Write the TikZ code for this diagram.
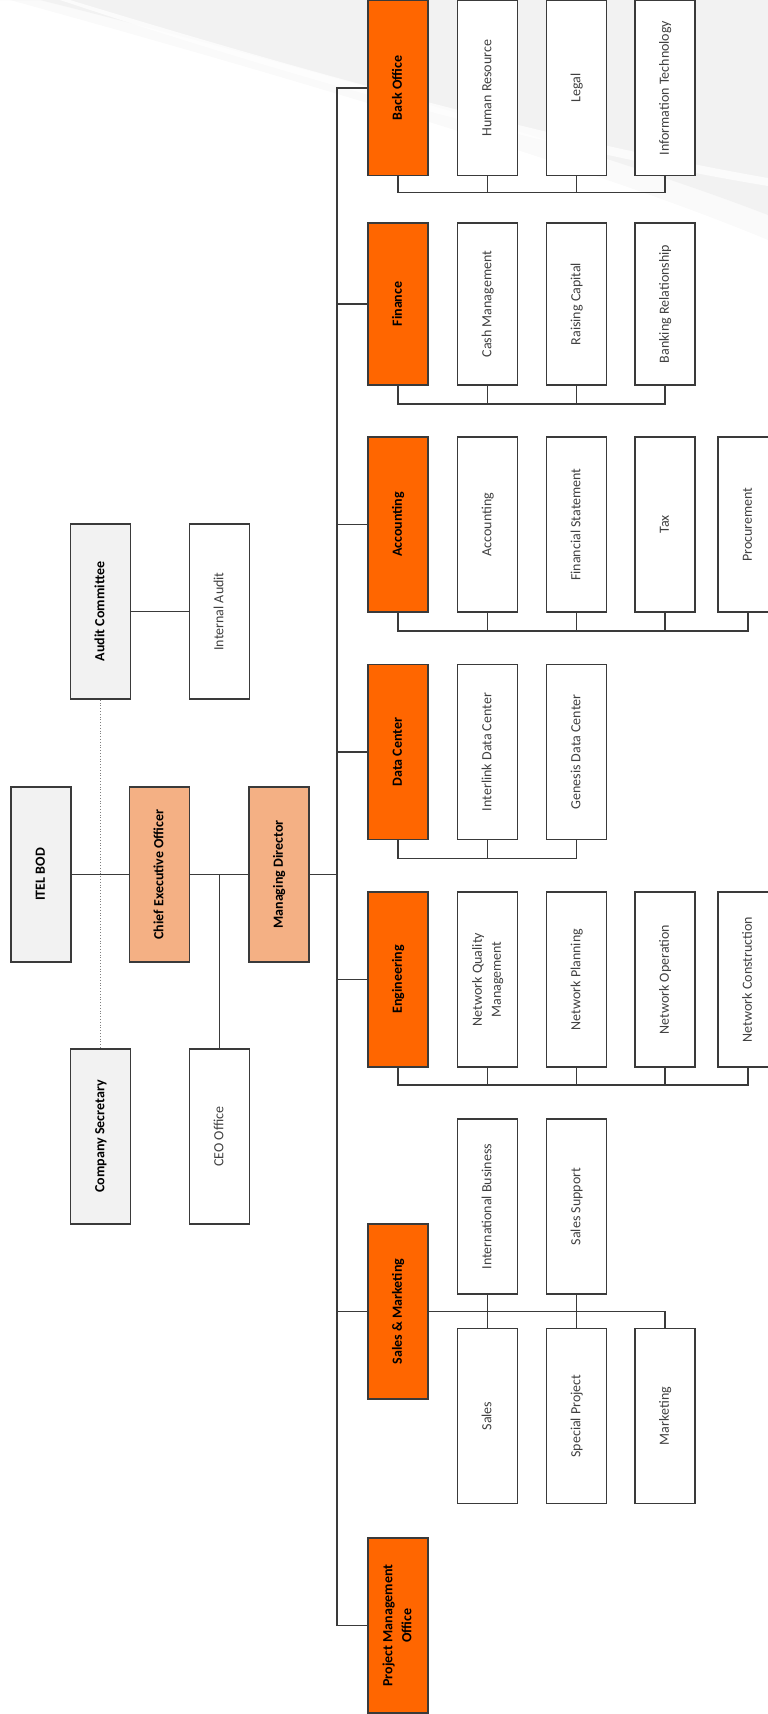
\documentclass[tikz,border=0pt]{standalone}
\usepackage{fontspec}
\setmainfont{Carlito}
\usepackage{graphicx}
\definecolor{deptorange}{HTML}{FF6600}
\definecolor{execpeach}{HTML}{F4B084}
\definecolor{boardgray}{HTML}{F2F2F2}
\definecolor{linegray}{HTML}{3A3A3A}
\definecolor{textgray}{HTML}{404040}
\newcommand{\vtext}[1]{\rotatebox{90}{\begin{tabular}{@{}c@{}}#1\end{tabular}}}
\begin{document}
\begin{tikzpicture}[x=1pt, y=-1pt,
    unit/.style={draw=linegray, line width=1.6pt, minimum width=60pt, minimum height=175pt,
        inner sep=0pt, font=\fontsize{14}{19}\selectfont},
    dept/.style={unit, fill=deptorange, font=\fontsize{14}{19}\selectfont\bfseries},
    exec/.style={unit, fill=execpeach, font=\fontsize{14}{19}\selectfont\bfseries},
    board/.style={unit, fill=boardgray, font=\fontsize{14}{19}\selectfont\bfseries},
    sub/.style={unit, fill=white, text=textgray},
    link/.style={draw=linegray, line width=1.4pt},
    dotlink/.style={draw=gray, line width=0.8pt, dotted}]
        \useasboundingbox (0,0) rectangle (768,1714);
        \clip (0,0) rectangle (768,1714);

        \fill[black!2] (0,0) -- (768,0) -- (768,240) .. controls (600,170) and (300,80) .. (10,0) -- cycle;
        \fill[black!5] (0,0) -- (768,0) -- (768,215) .. controls (600,150) and (300,65) .. (40,0) -- cycle;
        \fill[white, opacity=0.7] (70,0) .. controls (300,70) and (550,140) .. (768,178) -- (768,186) .. controls (550,150) and (300,80) .. (60,0) -- cycle;

        \node[board] (bod) at (41,874.5) {\vtext{ITEL BOD}};
        \node[board] (ac) at (100.5,611.5) {\vtext{Audit Committee}};
        \node[board] (cs) at (100.5,1136.5) {\vtext{Company Secretary}};
        \node[exec] (ceo) at (159.5,874.5) {\vtext{Chief Executive Officer}};
        \node[sub] (ia) at (219.5,611.5) {\vtext{Internal Audit}};
        \node[sub] (ceoo) at (219.5,1136.5) {\vtext{CEO Office}};
        \node[exec] (md) at (279,874.5) {\vtext{Managing Director}};

        \coordinate (bus) at (337,0);

        \node[dept] (bo) at (398,88) {\vtext{Back Office}};
        \node[sub] (hr) at (487.5,88) {\vtext{Human Resource}};
        \node[sub] (lg) at (576.5,88) {\vtext{Legal}};
        \node[sub] (it) at (665,88) {\vtext{Information Technology}};

        \node[dept, minimum height=162pt] (fi) at (398,304) {\vtext{Finance}};
        \node[sub, minimum height=162pt] (cm) at (487.5,304) {\vtext{Cash Management}};
        \node[sub, minimum height=162pt] (rc) at (576.5,304) {\vtext{Raising Capital}};
        \node[sub, minimum height=162pt] (br) at (665,304) {\vtext{Banking Relationship}};

        \node[dept] (ac2) at (398,524.5) {\vtext{Accounting}};
        \node[sub] (acc) at (487.5,524.5) {\vtext{Accounting}};
        \node[sub] (fs) at (576.5,524.5) {\vtext{Financial Statement}};
        \node[sub] (tx) at (665,524.5) {\vtext{Tax}};
        \node[sub] (pr) at (748,524.5) {\vtext{Procurement}};

        \node[dept] (dc) at (398,752) {\vtext{Data Center}};
        \node[sub] (idc) at (487.5,752) {\vtext{Interlink Data Center}};
        \node[sub] (gdc) at (576.5,752) {\vtext{Genesis Data Center}};

        \node[dept] (en) at (398,979.5) {\vtext{Engineering}};
        \node[sub] (nqm) at (487.5,979.5) {\vtext{Network Quality\\Management}};
        \node[sub] (np) at (576.5,979.5) {\vtext{Network Planning}};
        \node[sub] (no) at (665,979.5) {\vtext{Network Operation}};
        \node[sub] (nc) at (748,979.5) {\vtext{Network Construction}};

        \node[dept] (sm) at (398,1311.5) {\vtext{Sales \& Marketing}};
        \node[sub] (ib) at (487.5,1206.5) {\vtext{International Business}};
        \node[sub] (ss) at (576.5,1206.5) {\vtext{Sales Support}};
        \node[sub] (sl) at (487.5,1416) {\vtext{Sales}};
        \node[sub] (sp) at (576.5,1416) {\vtext{Special Project}};
        \node[sub] (mk) at (665,1416) {\vtext{Marketing}};

        \node[dept] (pmo) at (398,1625.5) {\vtext{Project Management\\Office}};

        \draw[dotlink] (ac) -- (cs);
        \draw[link] (bod) -- (ceo);
        \draw[link] (ceo) -- (md);
        \draw[link] (ac) -- (ia);
        \draw[link] (ceoo.north) -- (ceoo.north |- ceo.east);
        \draw[link] (md) -- (md -| bus);
        \draw[link] (bo.west) -- (bo.west -| bus) -- (pmo.west -| bus) -- (pmo.west);
        \foreach \d in {fi,ac2,dc,en,sm}
            \draw[link] (\d.west) -- (\d.west -| bus);

        \draw[link] (bo.south) -- ++(0,16) -| (it.south);
        \draw[link] (hr.south) -- ++(0,16);
        \draw[link] (lg.south) -- ++(0,16);
        \draw[link] (fi.south) -- ++(0,18) -| (br.south);
        \draw[link] (cm.south) -- ++(0,18);
        \draw[link] (rc.south) -- ++(0,18);
        \draw[link] (ac2.south) -- ++(0,18) -| (pr.south);
        \draw[link] (acc.south) -- ++(0,18);
        \draw[link] (fs.south) -- ++(0,18);
        \draw[link] (tx.south) -- ++(0,18);
        \draw[link] (dc.south) -- ++(0,18) -| (gdc.south);
        \draw[link] (idc.south) -- ++(0,18);
        \draw[link] (en.south) -- ++(0,17) -| (nc.south);
        \draw[link] (nqm.south) -- ++(0,17);
        \draw[link] (np.south) -- ++(0,17);
        \draw[link] (no.south) -- ++(0,17);
        \draw[link] (sm.east) -- (sm.east -| mk.north) -- (mk.north);
        \draw[link] (ib.south) -- (sl.north);
        \draw[link] (ss.south) -- (sp.north);
    \end{tikzpicture}
\end{document}
